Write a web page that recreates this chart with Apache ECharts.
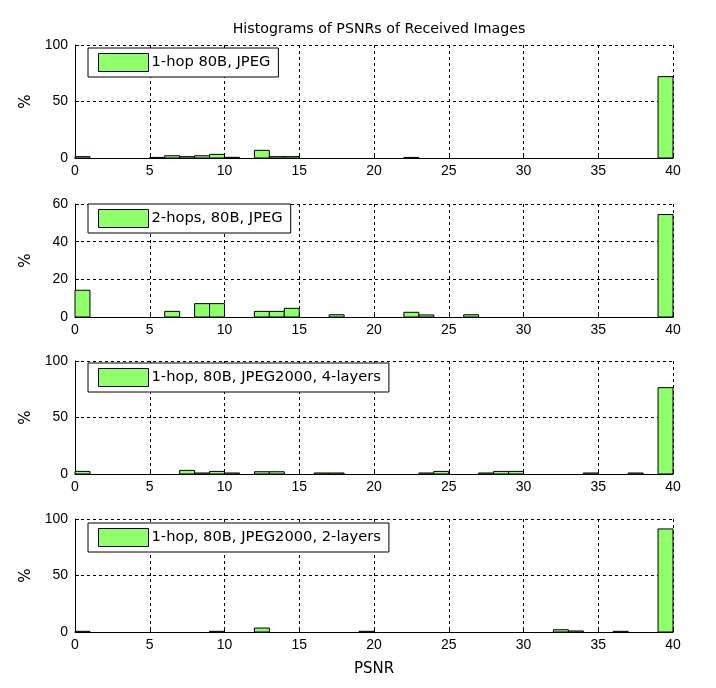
<!DOCTYPE html>
<html>
<head>
<meta charset="utf-8">
<script src="https://cdn.jsdelivr.net/npm/echarts@6/dist/echarts.min.js"></script>
<style>
  html, body { margin: 0; padding: 0; background: #fff; }
  #main { width: 716px; height: 688px; }
</style>
</head>
<body>
<div id="main"></div>
<script>
// PSNR histogram bins: bin i covers [i, i+1), values are % of received images
var binCount = 40;
var seriesNames = [
    '1-hop 80B, JPEG',
    '2-hops, 80B, JPEG',
    '1-hop, 80B, JPEG2000, 4-layers',
    '1-hop, 80B, JPEG2000, 2-layers'
];
// bin index -> percent (bins not listed are 0)
var hop1Jpeg = { 0: 1.2, 5: 0.5, 6: 2.0, 7: 1.2, 8: 2.0, 9: 3.2, 10: 0.6, 12: 6.8, 13: 1.2, 14: 1.2, 22: 0.5, 39: 72.0 };
var hop2Jpeg = { 0: 14.2, 6: 3.0, 8: 7.1, 9: 7.1, 12: 3.0, 13: 3.0, 14: 4.6, 17: 1.2, 22: 2.5, 23: 1.1, 26: 1.2, 39: 54.4 };
var hop1J2k4 = { 0: 2.3, 7: 3.2, 8: 0.9, 9: 2.3, 10: 0.9, 12: 2.0, 13: 2.0, 16: 0.9, 17: 0.9, 23: 0.9, 24: 2.3, 27: 0.9, 28: 2.3, 29: 2.3, 34: 0.9, 37: 0.9, 39: 76.4 };
var hop1J2k2 = { 0: 0.6, 9: 0.6, 12: 3.5, 19: 0.6, 32: 2.0, 33: 0.9, 36: 0.6, 39: 91.2 };
var seriesValues = [hop1Jpeg, hop2Jpeg, hop1J2k4, hop1J2k2];
var yMax = [100, 60, 100, 100];
var yStep = [50, 20, 50, 50];

var chart = echarts.init(document.getElementById('main'));

var font = 'Liberation Sans, Arial, sans-serif';
var textFont = 'DejaVu Sans, sans-serif';
var barColor = '#8fff6a';
var gridTops = [45, 204, 361, 519];
var legendTops = [48, 204, 363, 523];

var toData = function (obj) {
    var out = [];
    for (var i = 0; i < binCount; i++) {
        if (obj[i]) out.push([i, obj[i]]);
    }
    return out;
};

var renderBin = function (params, api) {
    var x0 = api.value(0);
    var h = api.value(1);
    var p0 = api.coord([x0, h]);
    var p1 = api.coord([x0 + 1, 0]);
    return {
        type: 'rect',
        shape: { x: p0[0], y: p0[1], width: p1[0] - p0[0], height: p1[1] - p0[1] },
        style: { fill: barColor, stroke: '#000', lineWidth: 1 }
    };
};

var grids = [], xAxes = [], yAxes = [], series = [], legends = [];
for (var k = 0; k < 4; k++) {
    grids.push({ left: 75, right: 43, top: gridTops[k], height: 113 });
    xAxes.push({
        type: 'value', gridIndex: k, min: 0, max: 40, interval: 5,
        name: k === 3 ? 'PSNR' : '',
        nameLocation: 'middle', nameGap: 30,
        nameTextStyle: { color: '#000', fontFamily: textFont, fontSize: 15 },
        axisLine: { show: true, lineStyle: { color: '#000', width: 1 } },
        axisTick: { show: true, inside: true, length: 4, lineStyle: { color: '#000' } },
        axisLabel: { color: '#000', fontFamily: font, fontSize: 14, margin: 6 },
        splitLine: { show: true, lineStyle: { color: '#000', type: [3, 3], width: 1 } }
    });
    yAxes.push({
        type: 'value', gridIndex: k, min: 0, max: yMax[k], interval: yStep[k],
        name: '%', nameLocation: 'middle', nameGap: 41, nameRotate: 90,
        nameTextStyle: { color: '#000', fontFamily: textFont, fontSize: 15 },
        axisLine: { show: true, lineStyle: { color: '#000', width: 1 } },
        axisTick: { show: true, inside: true, length: 4, lineStyle: { color: '#000' } },
        axisLabel: { color: '#000', fontFamily: font, fontSize: 14, margin: 7 },
        splitLine: { show: true, lineStyle: { color: '#000', type: [3, 3], width: 1 } }
    });
    series.push({
        name: seriesNames[k],
        type: 'custom',
        xAxisIndex: k, yAxisIndex: k,
        renderItem: renderBin,
        itemStyle: { color: barColor, borderColor: '#000', borderWidth: 1 },
        encode: { x: 0, y: 1 },
        data: toData(seriesValues[k]),
        silent: true
    });
    legends.push({
        data: [{ name: seriesNames[k], icon: 'rect' }],
        left: 88, top: legendTops[k],
        orient: 'vertical',
        itemWidth: 50, itemHeight: 18, itemGap: 0,
        padding: [5, 8, 5, 10],
        backgroundColor: '#fff',
        borderColor: '#000', borderWidth: 1,
        itemStyle: { color: barColor, borderColor: '#000', borderWidth: 1 },
        textStyle: { color: '#000', fontFamily: textFont, fontSize: 14.7, padding: [0, 0, 0, -2] },
        selectedMode: false
    });
}

var option = {
    backgroundColor: '#fff',
    animation: false,
    title: {
        text: 'Histograms of PSNRs of Received Images',
        left: 374, top: 17, textAlign: 'center',
        textStyle: { color: '#000', fontFamily: textFont, fontSize: 14.2, fontWeight: 'normal' }
    },
    legend: legends,
    grid: grids,
    xAxis: xAxes,
    yAxis: yAxes,
    series: series
};

chart.setOption(option);
</script>
</body>
</html>
